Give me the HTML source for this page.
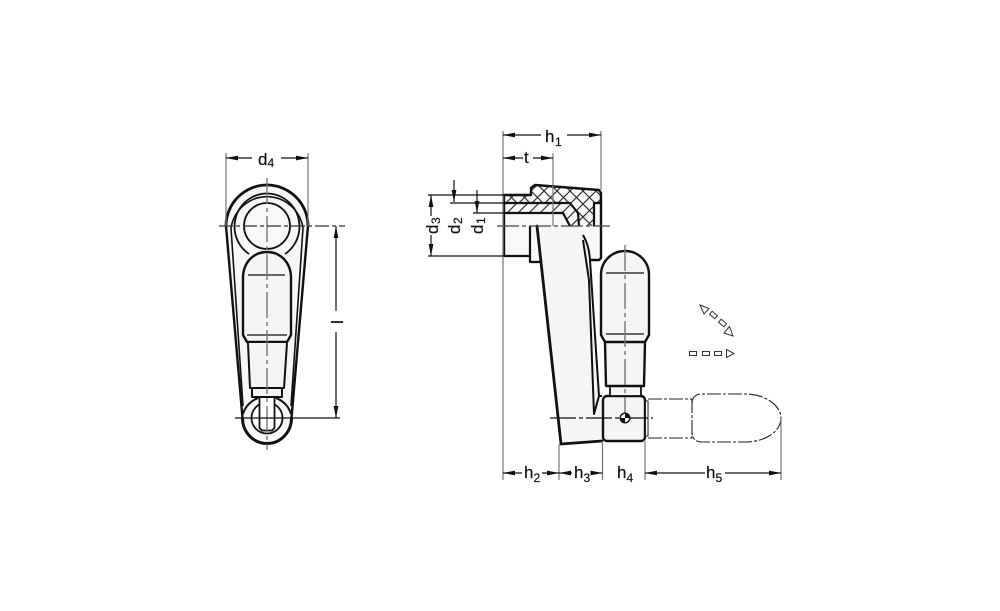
<!DOCTYPE html>
<html><head><meta charset="utf-8"><style>
html,body{margin:0;padding:0;background:#fff;width:1000px;height:611px;overflow:hidden}
svg{display:block}
text{font-family:"Liberation Sans",sans-serif;fill:#111;font-size:17px;stroke:#111;stroke-width:.2}
.s{font-size:12px}
.k{fill:none;stroke:#111;stroke-width:2.4;stroke-linejoin:round}
.t{fill:none;stroke:#111;stroke-width:1.2}
.c{fill:none;stroke:#777;stroke-width:1.4;stroke-dasharray:26 4 4 4}
.e{fill:none;stroke:#777;stroke-width:1.2}
.d{fill:none;stroke:#222;stroke-width:1.1;stroke-dasharray:14 2 3 2}
</style></head><body>
<svg width="1000" height="611" viewBox="0 0 1000 611" xmlns="http://www.w3.org/2000/svg">
<defs>
<pattern id="x" width="13" height="13" patternUnits="userSpaceOnUse" patternTransform="translate(505 191)">
<path d="M0 0L13 13M13 0L0 13" stroke="#333" stroke-width="1.200"/>
</pattern>
<pattern id="h" width="11" height="11" patternUnits="userSpaceOnUse" patternTransform="translate(506 203)">
<path d="M0 11L11 0M-2 2L2 -2M9 13L13 9" stroke="#333" stroke-width="1.200"/>
</pattern>
<marker id="a" markerWidth="13" markerHeight="7" refX="12" refY="3" orient="auto-start-reverse" markerUnits="userSpaceOnUse"><path d="M0 .6L12 3L0 5.400Z" fill="#111"/></marker>
</defs>

<!-- LEFT VIEW -->
<path d="M226 226A41 41 0 0 1 308 226L291 418A24.5 25.5 0 0 1 243 418Z" fill="#f6f6f6"/>
<path d="M226 226A41 41 0 0 1 308 226" class="k" style="stroke-width:2.800"/>
<path d="M226 226L242.500 418" class="k"/>
<path d="M308 226L291.500 418" class="k"/>
<path d="M242.500 418A24.5 25.5 0 0 0 291.500 418" class="k" style="stroke-width:3"/>
<path class="t" style="stroke-width:1.600" d="M231 228A36.500 37.500 0 0 1 303 228L291 406M231 228L243 406"/>
<path class="t" style="stroke-width:1.800" d="M249 254A32.500 33 0 1 1 285 254"/>
<circle cx="267" cy="226" r="23" fill="#f8f8f8" stroke="#111" stroke-width="1.800"/>
<path class="k" style="fill:#f5f5f5" d="M243 335V278C243 262 254 252 267 252C280 252 291 262 291 278V335L287 342H247Z"/>
<path class="k" style="fill:#f5f5f5;stroke-width:2" d="M248 343L250 388H284L287 343"/>
<path class="t" d="M248 275H285M247 335H287"/>
<path fill="none" stroke="#111" stroke-width="2" d="M243 414A24.500 24.500 0 0 1 258 398M291 414A24.500 24.500 0 0 0 276 398"/>
<circle cx="267" cy="418" r="15.500" fill="#fff" stroke="#111" stroke-width="1.800"/>
<path class="k" style="fill:#f5f5f5;stroke-width:2" d="M252 388V397H282V388Z"/>
<path style="fill:#fff;stroke:#111;stroke-width:1.800" d="M259.500 398V428L262 430.500H272L274.500 428V398"/>
<path class="c" d="M267 178V450"/>
<path class="t" d="M219 226H345" stroke-dasharray="14 3 4 3" style="stroke:#333"/>
<path class="t" d="M235 418H340"/>
<path class="e" d="M226 153V226M308 153V226"/>
<path class="t" d="M226 158H252" marker-start="url(#a)"/>
<path class="t" d="M281 158H308" marker-end="url(#a)"/>
<text x="258" y="165">d</text><text class="s" x="267.500" y="167">4</text>
<path class="t" d="M336 226V311" marker-start="url(#a)"/>
<path class="t" d="M336 332V418" marker-end="url(#a)"/>
<text transform="translate(343 324) rotate(-90)">l</text>

<!-- RIGHT VIEW -->
<path fill="#f8f8f8" d="M504 195H601V260H590V226H541V262H530V256H504Z"/>
<path fill="url(#x)" d="M504 195H531V188L535 185L599 190L601 193V203H594V226H579L578 213L570 203H504Z"/>
<path fill="url(#h)" d="M504 203H570L578 213L579 226H570L563 213H504Z"/>
<path fill="#f5f5f5" d="M537 226H583L590 260L599 396H602V441L561 444Z"/>
<path class="k" d="M504 256V195H531V188L535 185L599 190L601 193V258L599 260H590"/>
<path class="k" style="stroke-width:2.200" d="M504 203H570L578 213L579 226M504 213H563L570 226M601 203H594V226M504 256H530M530 226V262H541"/>
<path class="k" style="stroke-width:2.800;stroke-linecap:round" d="M537 226L561 444L602 441"/>
<path class="k" style="stroke-width:2" d="M583 235C587 242 589 248 590 260M583 240L589 280L594 414L599 396M590 260L599 396H602"/>

<rect x="603" y="396" width="42" height="45" rx="4" fill="#f5f5f5" stroke="#111" stroke-width="2.400"/>
<rect x="610" y="386" width="31" height="10" fill="#f5f5f5" stroke="#111" stroke-width="1.800"/>
<path class="k" style="fill:#f5f5f5" d="M605 342L606 386H644L645 342"/>
<path class="k" style="fill:#f5f5f5" d="M601 335V275C601 261 612 251 625 251C638 251 649 261 649 275V335L645 342H605Z"/>
<path class="t" d="M606 273H644M606 334H644"/>
<path class="c" d="M625 245V426"/>

<path class="d" d="M648 402V436M648 399H692M648 438H692M692 399V438"/>
<path class="d" d="M692 404C692 397 696 394 702 394H745C766 394 781 406 781 418C781 431 766 442 745 442H702C696 442 692 439 692 432"/>
<rect x="645.500" y="401" width="2.500" height="35" fill="#fff" stroke="#222" stroke-width="1"/>
<path class="t" d="M550 418H653" stroke-dasharray="26 3 4 3" style="stroke:#111"/>
<circle cx="625" cy="418" r="4.800" fill="#fff" stroke="#111" stroke-width="1.400"/>
<path d="M625 418H620.200A4.800 4.800 0 0 0 625 422.800ZM625 418H629.800A4.800 4.800 0 0 0 625 413.200Z" fill="#111"/>

<path class="t" d="M497 226H610" stroke-dasharray="22 3 4 3" style="stroke:#444"/>
<path class="e" d="M503 131V480M601 131V190M553 153V226M559 444V480M602.500 441V480M645 441V480M781 418V480"/>
<path class="t" d="M503 135H541" marker-start="url(#a)"/>
<path class="t" d="M567 135H601" marker-end="url(#a)"/>
<text x="545" y="142">h</text><text class="s" x="555" y="146">1</text>
<path class="t" d="M503 158H523" marker-start="url(#a)"/>
<path class="t" d="M533 158H553" marker-end="url(#a)"/>
<text x="524" y="163">t</text>

<path class="t" d="M428 195H504M450 203H504M473 213H504M428 256H504"/>
<path class="t" d="M431 195V216" marker-start="url(#a)"/>
<path class="t" d="M431 235V256" marker-end="url(#a)"/>
<path class="t" d="M454 180V202" marker-end="url(#a)"/>
<path class="t" d="M477 190V213" marker-end="url(#a)"/>
<text transform="translate(438 234) rotate(-90)">d</text><text class="s" transform="translate(440 224) rotate(-90)">3</text>
<text transform="translate(460 234) rotate(-90)">d</text><text class="s" transform="translate(462 224) rotate(-90)">2</text>
<text transform="translate(483 234) rotate(-90)">d</text><text class="s" transform="translate(485 224) rotate(-90)">1</text>

<path class="t" d="M503 473H522" marker-start="url(#a)"/>
<path class="t" d="M542 473H559" marker-end="url(#a)"/>
<path class="t" d="M559 473H572" marker-start="url(#a)"/>
<path class="t" d="M592 473H602.500" marker-end="url(#a)"/>
<path class="t" d="M645 473H705" marker-start="url(#a)"/>
<path class="t" d="M725 473H781" marker-end="url(#a)"/>
<text x="524" y="478">h</text><text class="s" x="533.500" y="482">2</text>
<text x="574" y="478">h</text><text class="s" x="583.500" y="482">3</text>
<text x="617" y="478">h</text><text class="s" x="626.500" y="482">4</text>
<text x="706" y="478">h</text><text class="s" x="715.500" y="482">5</text>

<g fill="#fff" stroke="#333" stroke-width="1">
<rect x="689.500" y="351.500" width="7" height="4"/>
<rect x="702.500" y="351.500" width="7" height="4"/>
<rect x="714.500" y="351.500" width="7" height="4"/>
<path d="M726.500 349.500L734 353.500L726.500 357.500Z"/>
<path d="M700 305L709 308.500L704 314Z"/>
<rect x="-3.500" y="-2" width="7" height="4" transform="translate(713.500 315) rotate(40)"/>
<rect x="-3.500" y="-2" width="7" height="4" transform="translate(722.500 323) rotate(40)"/>
<path d="M733 336L724 333L729.500 326.500Z"/>
</g>
</svg>
</body></html>
